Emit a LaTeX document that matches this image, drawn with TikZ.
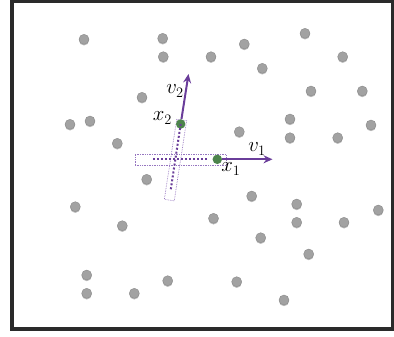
\documentclass[tikz,border=0pt]{standalone}
\usetikzlibrary{arrows.meta,shadows}

\definecolor{vecpurple}{RGB}{106,61,154}
\definecolor{stripline}{RGB}{150,118,192}
\definecolor{samplegreen}{RGB}{76,132,76}
\definecolor{dotgray}{RGB}{162,162,162}
\definecolor{framegray}{RGB}{42,42,42}

\tikzset{
  particle/.style={circle, inner sep=0pt, minimum size=10pt, fill=dotgray,
    draw=dotgray!85!black, line width=0.4pt,
    drop shadow={shadow xshift=0pt, shadow yshift=-1.2pt, opacity=0.45, fill=black!60}},
  sample/.style={circle, inner sep=0pt, minimum size=9.5pt, fill=samplegreen},
  vec/.style={vecpurple, line width=2pt, -{Stealth[length=9pt,width=8pt]}},
  strip/.style={draw=stripline, densely dotted, line width=0.7pt, inner sep=0pt},
  coordline/.style={vecpurple, line width=2pt, dash pattern=on 2pt off 2pt},
  lbl/.style={font=\fontsize{20}{24}\selectfont, inner sep=1pt},
}

\begin{document}
\begin{tikzpicture}[x=1pt, y=-1pt]

    \useasboundingbox (0,0) rectangle (394,337);

    % --- The frame ---
    \draw[framegray, line width=4pt] (12,1.5) rectangle (392.5,328.5);

    % --- The particles ---
    \foreach \px/\py [count=\i] in {84/39.3, 162.7/38.3, 244.3/44, 305/33.3,
        163.3/56.7, 211/56.7, 262.3/68.3, 342.7/56.7,
        142/97.3, 311/91, 362.3/91,
        70/124.3, 90/121, 290/119, 371/125,
        117.3/143.3, 239.3/131.7, 290/137.7, 337.7/137.7,
        146.7/179.3, 251.7/196, 296.7/204,
        75.3/206.7, 213.5/218.3, 296.7/222.3, 344/222.3, 378.3/210,
        122.3/225.7, 260.7/237.7, 308.7/254, 86.7/275,
        86.7/293.3, 134.3/293.3, 167.7/280.7, 236.7/281.7, 284/300}
      \node[particle] (p\i) at (\px,\py) {};

    % --- The strips round the two directions ---
    \node[strip, rectangle, minimum width=91pt, minimum height=10.7pt] (strip1) at (180.5,159.7) {};
    \node[strip, rectangle, minimum width=81pt, minimum height=10pt, rotate=81.2] (strip2) at (175.5,160) {};

    % --- The two samples ---
    \node[sample] (x1) at (217.3,159.3) {};
    \node[sample] (x2) at (180.7,124) {};

    % --- Coordinate lines ---
    \coordinate (h0) at (153.3,159.3);
    \coordinate (h1) at (208,159.3);
    \coordinate (w1) at (170.7,190);
    \draw[coordline] (h0) -- (h1);
    \draw[coordline] (x2.center) -- (w1);

    % --- The vectors ---
    \coordinate (v1tip) at (272.5,159.3);
    \coordinate (v2tip) at (188.5,74);
    \draw[vec] (x1) -- (v1tip);
    \draw[vec] (x2) -- (v2tip);

    % --- Labels ---
    \node[lbl] (v1lbl) at (257,149) {$v_1$};
    \node[lbl] (v2lbl) at (175,91) {$v_2$};
    \node[lbl] (x1lbl) at (231,169) {$x_1$};
    \node[lbl] (x2lbl) at (162.5,118) {$x_2$};

  \end{tikzpicture}
\end{document}
